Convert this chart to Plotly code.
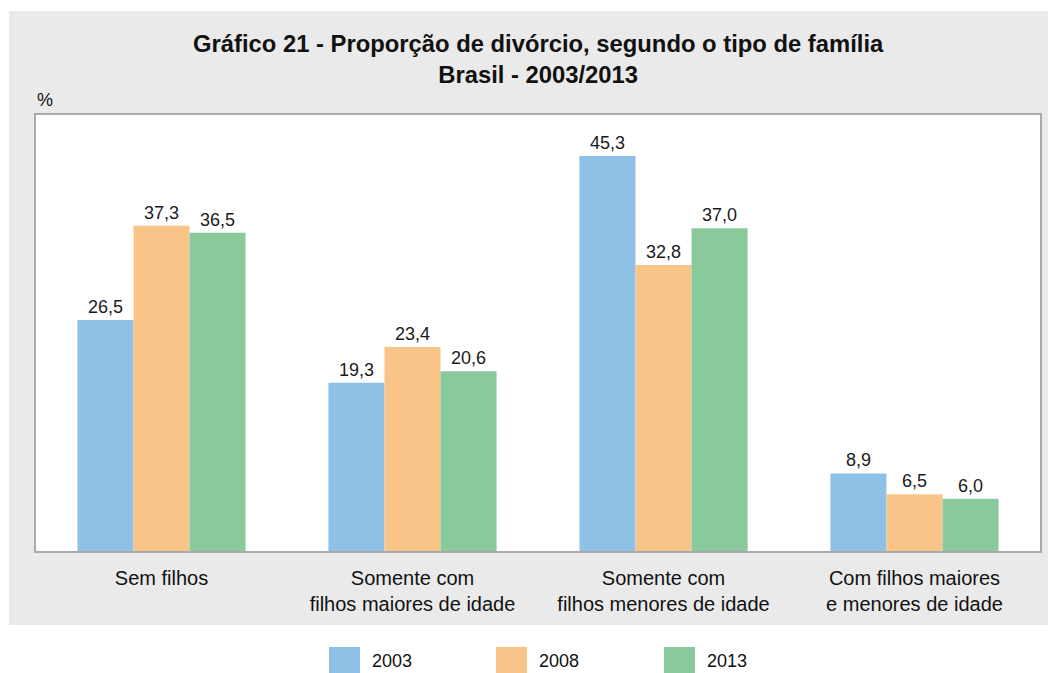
import plotly.graph_objects as go

categorias = [
    "Sem filhos",
    "Somente com<br>filhos maiores de idade",
    "Somente com<br>filhos menores de idade",
    "Com filhos maiores<br>e menores de idade",
]
anos = ["2003", "2008", "2013"]
valores_2003 = [26.5, 19.3, 45.3, 8.9]
valores_2008 = [37.3, 23.4, 32.8, 6.5]
valores_2013 = [36.5, 20.6, 37.0, 6.0]
cores = ["#8FC0E6", "#F9C487", "#89C99C"]

# a página tem margem de 8px no body
OFF = 8
W, H = 1056 - OFF, 673 - OFF
L, R, T, B = 36 - OFF, 1056 - 1040, 115 - OFF, 673 - 551
PW, PH = W - L - R, H - T - B
FONTE = "Liberation Sans, Arial, sans-serif"


def px_x(x):
    # pixel da tela -> coordenada paper
    return (x - OFF - L) / PW


def px_y(y):
    return (H - B - (y - OFF)) / PH


fig = go.Figure()
for ano, vals, cor in zip(anos, [valores_2003, valores_2008, valores_2013], cores):
    fig.add_trace(go.Bar(
        x=categorias, y=vals, name=ano,
        marker=dict(color=cor, line=dict(width=0)),
        texttemplate="%{y:.1f}", textposition="outside",
        textfont=dict(size=18, color="#1a1a1a", family=FONTE),
        cliponaxis=False,
    ))

shapes = [
    # fundo cinza
    dict(type="rect", xref="paper", yref="paper", layer="below",
         x0=px_x(9), x1=px_x(1060), y0=px_y(625), y1=px_y(11),
         fillcolor="#EAEAEA", line=dict(width=0)),
    dict(type="rect", xref="paper", yref="paper", layer="below",
         x0=0, x1=1, y0=0, y1=1, fillcolor="white", line=dict(width=0)),
]
annotations = [
    dict(text="<b>Gráfico 21 - Proporção de divórcio, segundo o tipo de família<br>Brasil - 2003/2013</b>",
         xref="paper", yref="paper", x=0.5, y=px_y(59), yanchor="middle",
         showarrow=False, font=dict(size=23.8, color="#111", family=FONTE)),
    dict(text="%", xref="paper", yref="paper", x=px_x(35), y=px_y(100),
         xanchor="left", yanchor="middle", showarrow=False,
         font=dict(size=18, color="#111", family=FONTE)),
]
# legenda manual
leg_x = [329, 496, 664]
for lx, ano, cor in zip(leg_x, anos, cores):
    shapes.append(dict(type="rect", xref="paper", yref="paper",
                       x0=px_x(lx), x1=px_x(lx + 31), y0=px_y(647), y1=px_y(676),
                       fillcolor=cor, line=dict(width=0)))
    annotations.append(dict(text=ano, xref="paper", yref="paper",
                            x=px_x(lx + 41), y=px_y(661), xanchor="left", yanchor="middle",
                            showarrow=False, font=dict(size=18, color="#111", family=FONTE)))

fig.update_layout(
    width=W, height=H,
    margin=dict(l=L, r=R, t=T, b=B, autoexpand=False),
    paper_bgcolor="white", plot_bgcolor="rgba(0,0,0,0)",
    separators=",.",
    barmode="group", bargap=0.33, bargroupgap=0,
    showlegend=False,
    font=dict(family=FONTE, size=18, color="#111"),
    shapes=shapes, annotations=annotations,
    xaxis=dict(showline=True, mirror=True, linecolor="#AAAAAA", linewidth=2,
               ticks="", showgrid=False, ticklabelstandoff=8,
               tickfont=dict(size=20, color="#111")),
    yaxis=dict(range=[0, 50], showline=True, mirror=True, linecolor="#AAAAAA",
               linewidth=2, showgrid=False, zeroline=False, showticklabels=False,
               ticks=""),
)

fig.write_html("out.html")
